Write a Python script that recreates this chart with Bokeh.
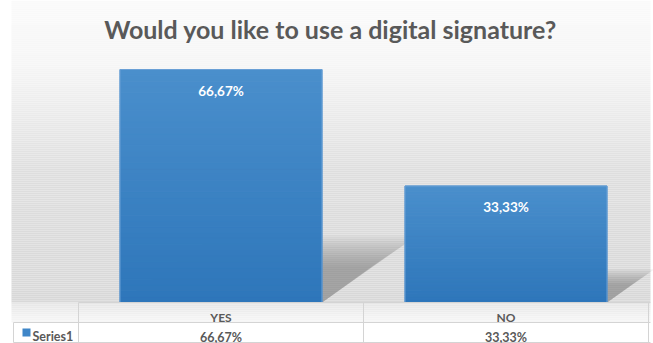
from bokeh.plotting import figure
from bokeh.models import Range1d, ColumnDataSource
from bokeh.core.properties import value
from bokeh.embed import file_html
from bokeh.resources import INLINE

# ---- data ----
categories = ["YES", "NO"]
values = [66.67, 33.33]
value_labels = ["66,67%", "33,33%"]
series_name = "Series1"
title_text = "Would you like to use a digital signature?"

# ---- layout helpers (pixel -> data) ----
W, H = 653, 343
LEFT_PX, CAT_PX = 78, 285          # plot area left, width per category
BASE_PX, UNIT_PX = 302, 233 / 66.67  # y=0 pixel row, pixels per unit


def X(px):
    return (px - LEFT_PX) / CAT_PX


def Y(py):
    return (BASE_PX - py) / UNIT_PX


def lerp(a, b, t):
    return a + (b - a) * t


def hexc(r, g, b):
    return "#%02x%02x%02x" % (int(round(r)), int(round(g)), int(round(b)))


p = figure(width=W, height=H, output_backend="svg", toolbar_location=None,
           x_range=Range1d(X(0), X(W)), y_range=Range1d(Y(H), Y(0)),
           min_border=0, min_border_left=0, min_border_right=0,
           min_border_top=0, min_border_bottom=0)
p.axis.visible = False
p.grid.visible = False
p.outline_line_color = None
p.background_fill_color = "white"
p.border_fill_color = "white"

# ---- background gradient ----
stops = [(0, 250), (60, 246), (170, 222), (300, 216), (302, 230), (322, 248)]
strips = dict(left=[], right=[], top=[], bottom=[], color=[])
for py in range(0, 322, 2):
    for (a, ca), (b, cb) in zip(stops[:-1], stops[1:]):
        if a <= py < b:
            c = lerp(ca, cb, (py - a) / (b - a))
            break
    strips["left"].append(X(11))
    strips["right"].append(X(650))
    strips["top"].append(Y(py))
    strips["bottom"].append(Y(py + 2))
    strips["color"].append(hexc(c, c, c))
p.quad(left="left", right="right", top="top", bottom="bottom", source=ColumnDataSource(strips),
       fill_color="color", line_color=None)

# ---- bars ----
xc = [i + 0.5 for i in range(len(categories))]
bw = 202 / CAT_PX

# shadows (sheared copies of the bars, layered for softness)
for j in range(12):
    xs_list, ys_list = [], []
    for c, v in zip(xc, values):
        x0, x1 = c - bw / 2, c + bw / 2
        s = v * 0.00437 * (0.6 + 0.05 * j)
        k = 0.24 * (0.65 + 0.05 * j)
        xs_list.append([x0, x1, x1 + s, x0 + s])
        ys_list.append([0, 0, v * k, v * k])
    p.patches(xs_list, ys_list, fill_color="#6a6a6a", fill_alpha=0.055, line_color=None)

# gradient bars
N = 40
top_rgb, bot_rgb = (74, 143, 204), (46, 118, 186)
sl = dict(left=[], right=[], top=[], bottom=[], color=[])
for c, v in zip(xc, values):
    for j in range(N):
        t = (j + 0.5) / N
        sl["left"].append(c - bw / 2)
        sl["right"].append(c + bw / 2)
        sl["bottom"].append(v * j / N)
        sl["top"].append(v * (j + 1) / N)
        sl["color"].append(hexc(*[lerp(bb, tt, t) for bb, tt in zip(bot_rgb, top_rgb)]))
p.quad(left="left", right="right", top="top", bottom="bottom", source=ColumnDataSource(sl),
       fill_color="color", line_color="color")
p.vbar(x=xc, top=values, width=bw, bottom=0, fill_color=None, line_color="#6aa0d6", line_width=1)

# bar labels
p.text(x=xc, y=values, text=value_labels, y_offset=21, text_align="center",
       text_baseline="alphabetic", text_color="white", text_font=value("Lato"),
       text_font_style="bold", text_font_size="13.5px")

# ---- title ----
p.text(x=[X(330)], y=[Y(28)], text=[title_text], text_align="center", text_baseline="alphabetic",
       text_color="#595959", text_font=value("Lato"), text_font_style="bold", text_font_size="25px")

# ---- data table ----
row1_top, row1_bot, row2_bot = 0, Y(322), Y(342)
tbl_right = X(650)
lc = "#d4d4d4"
# row 2 white background
p.quad(left=[X(13)], right=[tbl_right], top=[row1_bot], bottom=[row2_bot], fill_color="white", line_color=None)
# horizontal lines
p.segment(x0=[X(78), X(13), X(13)], y0=[row1_top, row1_bot, row2_bot],
          x1=[tbl_right, tbl_right, tbl_right], y1=[row1_top, row1_bot, row2_bot],
          line_color=lc, line_width=1)
# vertical lines
bounds = [i for i in range(len(categories) + 1)]
p.segment(x0=bounds, y0=[row1_top] * len(bounds), x1=bounds, y1=[row2_bot] * len(bounds),
          line_color=lc, line_width=1)
p.segment(x0=[X(13)], y0=[row1_bot], x1=[X(13)], y1=[row2_bot], line_color=lc, line_width=1)

p.text(x=xc, y=[Y(316.5)] * len(xc), text=categories, text_align="center", text_baseline="alphabetic",
       text_color="#595959", text_font=value("Lato"), text_font_style="bold", text_font_size="12px")
p.text(x=xc, y=[Y(336.5)] * len(xc), text=value_labels, text_align="center", text_baseline="alphabetic",
       text_color="#595959", text_font=value("Lato"), text_font_style="bold", text_font_size="12.5px")
p.scatter(x=[X(26)], y=[Y(332)], marker="square", size=8, fill_color="#3f86c8", line_color=None)
p.text(x=[X(32)], y=[Y(336)], text=[series_name], text_align="left", text_baseline="alphabetic",
       text_color="#595959", text_font=value("Lato"), text_font_style="bold", text_font_size="12.5px")

open("out.html", "w").write(file_html(p, INLINE))
